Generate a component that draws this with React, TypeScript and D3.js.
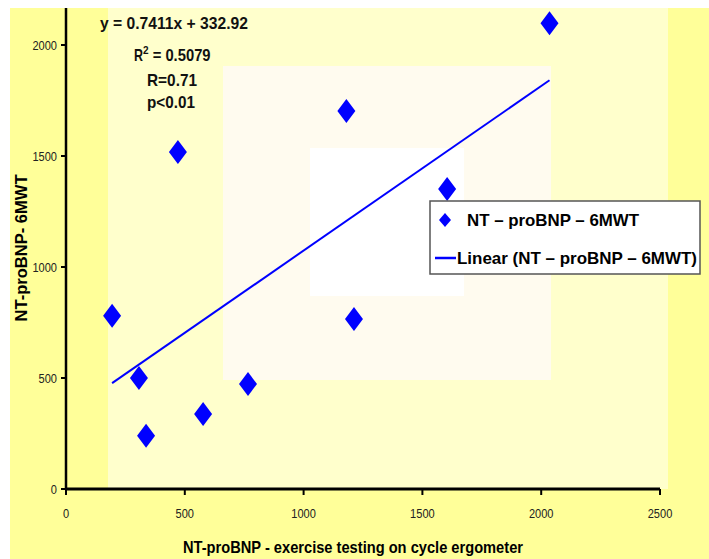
import React from "react";
import * as d3 from "d3";

const xValues = [194, 307, 337, 471, 577, 766, 1180, 1212, 1604, 2035];
const yValues = [780, 500, 240, 1518, 338, 473, 1703, 766, 1351, 2098];
const xTicks = [0, 500, 1000, 1500, 2000, 2500];
const yTicks = [0, 500, 1000, 1500, 2000];
const slope = 0.7411;
const intercept = 332.92;
const annotations = ["y = 0.7411x + 332.92", "R2 = 0.5079", "R=0.71", "p<0.01"];
const xTitle = "NT-proBNP - exercise testing on cycle ergometer";
const yTitle = "NT-proBNP- 6MWT";
const legendLabels = ["NT \u2013 proBNP \u2013 6MWT", "Linear (NT \u2013 proBNP \u2013 6MWT)"];

const W = 709;
const H = 559;
const sans = "'Liberation Sans', Arial, sans-serif";

function Narrow(props: {
  x: number;
  y: number;
  size: number;
  sx?: number;
  anchor?: string;
  bold?: boolean;
  fill?: string;
  rotate?: number;
  children: React.ReactNode;
}) {
  const { x, y, size, sx = 0.85, anchor = "start", bold = false, fill = "#000", rotate = 0, children } = props;
  return (
    <text
      transform={`translate(${x},${y}) rotate(${rotate}) scale(${sx},1)`}
      textAnchor={anchor}
      fontFamily={sans}
      fontWeight={bold ? "bold" : "normal"}
      fontSize={size}
      fill={fill}
    >
      {children}
    </text>
  );
}

export default function App() {
  const x = d3.scaleLinear().domain([0, 2500]).range([66, 660]);
  const y = d3.scaleLinear().domain([0, 2000]).range([489, 45]);
  const xMin = d3.min(xValues) as number;
  const xMax = d3.max(xValues) as number;
  const line = d3
    .line<number>()
    .x((d) => x(d))
    .y((d) => y(slope * d + intercept));
  const diamond = (cx: number, cy: number, w: number, h: number) =>
    `M${cx},${cy - h / 2}L${cx + w / 2},${cy}L${cx},${cy + h / 2}L${cx - w / 2},${cy}Z`;

  return (
    <svg width={W} height={H} style={{ position: "absolute", left: 0, top: 0, background: "#fff" }}>
      <rect x={10} y={8} width={W - 10} height={H - 8} fill="#FFFF99" />
      <rect x={108} y={8} width={560} height={481} fill="#FFFFCC" />
      <rect x={223} y={66} width={328} height={314} fill="#FFFBEF" />
      <rect x={310} y={148} width={154} height={148} fill="#FFFFFF" />

      {/* trendline */}
      <path d={line([xMin, xMax]) || ""} stroke="#0000FF" strokeWidth={2} fill="none" />

      {/* points */}
      {xValues.map((v, i) => (
        <path key={i} d={diamond(x(v), y(yValues[i]), 18, 24)} fill="#0000FF" />
      ))}

      {/* axes */}
      <line x1={66} y1={8} x2={66} y2={490} stroke="#000" strokeWidth={2.5} />
      <line x1={65} y1={489} x2={660} y2={489} stroke="#000" strokeWidth={3} />
      {yTicks.map((t) => (
        <g key={t}>
          <line x1={61} x2={66} y1={y(t)} y2={y(t)} stroke="#000" strokeWidth={2} />
          <Narrow x={57} y={y(t) + 4.5} size={13} anchor="end" fill="#222">
            {t}
          </Narrow>
        </g>
      ))}
      {xTicks.map((t) => (
        <g key={t}>
          <line x1={x(t)} x2={x(t)} y1={489} y2={495} stroke="#000" strokeWidth={2} />
          <Narrow x={x(t)} y={518} size={13} anchor="middle" fill="#222">
            {t}
          </Narrow>
        </g>
      ))}

      {/* axis titles */}
      <text
        x={353}
        y={553}
        textAnchor="middle"
        fontFamily={sans}
        fontWeight="bold"
        fontSize={17}
        textLength={340}
        lengthAdjust="spacingAndGlyphs"
        fill="#000"
      >
        {xTitle}
      </text>
      <text
        transform="translate(27,248) rotate(-90)"
        x={0}
        y={0}
        textAnchor="middle"
        fontFamily={sans}
        fontWeight="bold"
        fontSize={17}
        textLength={147}
        lengthAdjust="spacingAndGlyphs"
        fill="#000"
      >
        {yTitle}
      </text>

      {/* annotations */}
      <text x={100} y={29} fontFamily={sans} fontWeight="bold" fontSize={17} textLength={148} lengthAdjust="spacingAndGlyphs" fill="#111">
        {annotations[0]}
      </text>
      <text x={134} y={61} fontFamily={sans} fontWeight="bold" fontSize={17} fill="#111">
        <tspan textLength={9} lengthAdjust="spacingAndGlyphs">R</tspan>
        <tspan dy={-7} fontSize={10}>2</tspan>
        <tspan dy={7} textLength={62} lengthAdjust="spacingAndGlyphs">{annotations[1].slice(2)}</tspan>
      </text>
      <text x={147} y={86} fontFamily={sans} fontWeight="bold" fontSize={17} textLength={50} lengthAdjust="spacingAndGlyphs" fill="#111">
        {annotations[2]}
      </text>
      <text x={147} y={108} fontFamily={sans} fontWeight="bold" fontSize={17} textLength={48} lengthAdjust="spacingAndGlyphs" fill="#111">
        {annotations[3]}
      </text>

      {/* legend */}
      <rect x={430} y={201} width={270} height={73} fill="#FFFFFF" stroke="#555" strokeWidth={1.5} />
      <path d={diamond(445, 220, 12, 14)} fill="#0000FF" />
      <text x={467} y={226} fontFamily={sans} fontWeight="bold" fontSize={17} textLength={172} lengthAdjust="spacingAndGlyphs" fill="#000">
        {legendLabels[0]}
      </text>
      <line x1={435} x2={456} y1={258} y2={258} stroke="#0000FF" strokeWidth={2.5} />
      <text x={457} y={264} fontFamily={sans} fontWeight="bold" fontSize={17} textLength={240} lengthAdjust="spacingAndGlyphs" fill="#000">
        {legendLabels[1]}
      </text>
    </svg>
  );
}
